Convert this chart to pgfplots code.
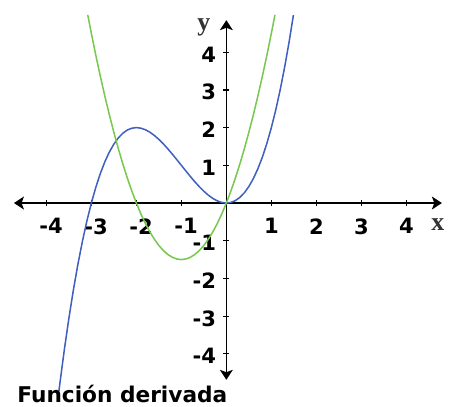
\documentclass[border=0pt]{standalone}
\usepackage{fontspec}
\usepackage{pgfplots}
\pgfplotsset{compat=1.18}
\usetikzlibrary{arrows.meta}
\newfontfamily\tickfont{DejaVu Sans}
\newfontfamily\lblfont{Liberation Serif}
\definecolor{fblue}{RGB}{64,96,192}
\definecolor{fgreen}{RGB}{120,200,80}

\begin{document}
\begin{tikzpicture}
\begin{axis}[
    x=1.35cm, y=1.131cm,
    xmin=-4.72, xmax=4.79,
    ymin=-4.69, ymax=4.85,
    axis lines=middle,
    axis line style={line width=1.3pt, black, {Stealth[length=8.5pt,width=11pt,inset=2pt]}-{Stealth[length=8.5pt,width=11pt,inset=2pt]}},
    xtick={-4,-3,-2,-1,1,2,3,4},
    ytick={-4,-3,-2,-1,1,2,3,4},
    xticklabels={\hspace*{8pt}-4,\hspace*{8pt}-3,\hspace*{8pt}-2,\hspace*{8pt}-1,1,2,3,4},
    yticklabels={-4,-3,-2,-1,1,2,3,4},
    tick align=center,
    major tick length=5pt,
    tick style={line width=1pt, black},
    ticklabel style={font=\tickfont\bfseries\fontsize{18}{18}\selectfont, inner sep=0pt},
    xticklabel style={anchor=north, yshift=-10.5pt},
    yticklabel style={anchor=east, xshift=-6pt, yshift=-2pt},
    clip=false,
]

% funcion
\addplot[fblue, line width=1.3pt] coordinates {
    (-3.72,-4.98) (-3.7,-4.79) (-3.6,-3.888) (-3.5,-3.0625) (-3.4,-2.312)
    (-3.3,-1.6335) (-3.2,-1.024) (-3.1,-0.4805) (-3.0,0) (-2.9,0.4205)
    (-2.8,0.784) (-2.7,1.0935) (-2.6,1.352) (-2.5,1.5625) (-2.4,1.728)
    (-2.3,1.8515) (-2.2,1.936) (-2.1,1.9845) (-2.0,2) (-1.9,1.9855)
    (-1.8,1.944) (-1.7,1.8785) (-1.6,1.792) (-1.5,1.6875) (-1.4,1.568)
    (-1.3,1.4365) (-1.2,1.296) (-1.1,1.1495) (-1.0,1) (-0.9,0.8505)
    (-0.8,0.704) (-0.7,0.5635) (-0.6,0.432) (-0.5,0.3125) (-0.4,0.208)
    (-0.3,0.1215) (-0.2,0.056) (-0.1,0.0145) (0,0) (0.1,0.0155)
    (0.2,0.064) (0.3,0.1485) (0.4,0.272) (0.5,0.4375) (0.6,0.648)
    (0.7,0.9065) (0.8,1.216) (0.9,1.5795) (1.0,2) (1.1,2.4805)
    (1.2,3.024) (1.3,3.6335) (1.4,4.312) (1.49,4.984)
};

% derivada
\addplot[fgreen, line width=1.3pt] coordinates {
    (-3.08,4.99) (-3.0,4.5) (-2.9,3.915) (-2.8,3.36) (-2.7,2.835)
    (-2.6,2.34) (-2.5,1.875) (-2.4,1.44) (-2.3,1.035) (-2.2,0.66)
    (-2.1,0.315) (-2.0,0) (-1.9,-0.285) (-1.8,-0.54) (-1.7,-0.765)
    (-1.6,-0.96) (-1.5,-1.125) (-1.4,-1.26) (-1.3,-1.365) (-1.2,-1.44)
    (-1.1,-1.485) (-1.0,-1.5) (-0.9,-1.485) (-0.8,-1.44) (-0.7,-1.365)
    (-0.6,-1.26) (-0.5,-1.125) (-0.4,-0.96) (-0.3,-0.765) (-0.2,-0.54)
    (-0.1,-0.285) (0,0) (0.1,0.315) (0.2,0.66) (0.3,1.035)
    (0.4,1.44) (0.5,1.875) (0.6,2.34) (0.7,2.835) (0.8,3.36)
    (0.9,3.915) (1.0,4.5) (1.08,4.99)
};

\node[font=\lblfont\bfseries\fontsize{22}{22}\selectfont, text=black!80] at (axis cs:-0.50,4.67) {y};
\node[font=\lblfont\bfseries\fontsize{22}{22}\selectfont, text=black!80] at (axis cs:4.70,-0.56) {x};
\node[font=\tickfont\bfseries\fontsize{18.5}{18.5}\selectfont, anchor=base west, inner sep=0pt]
    at (axis cs:-4.65,-5.29) {Función derivada};

\coordinate (bl) at (axis cs:-5.03,-5.41);
\coordinate (tr) at (axis cs:4.97,5.385);
\end{axis}
\pgfresetboundingbox
\path (bl) rectangle (tr);
\end{tikzpicture}
\end{document}
